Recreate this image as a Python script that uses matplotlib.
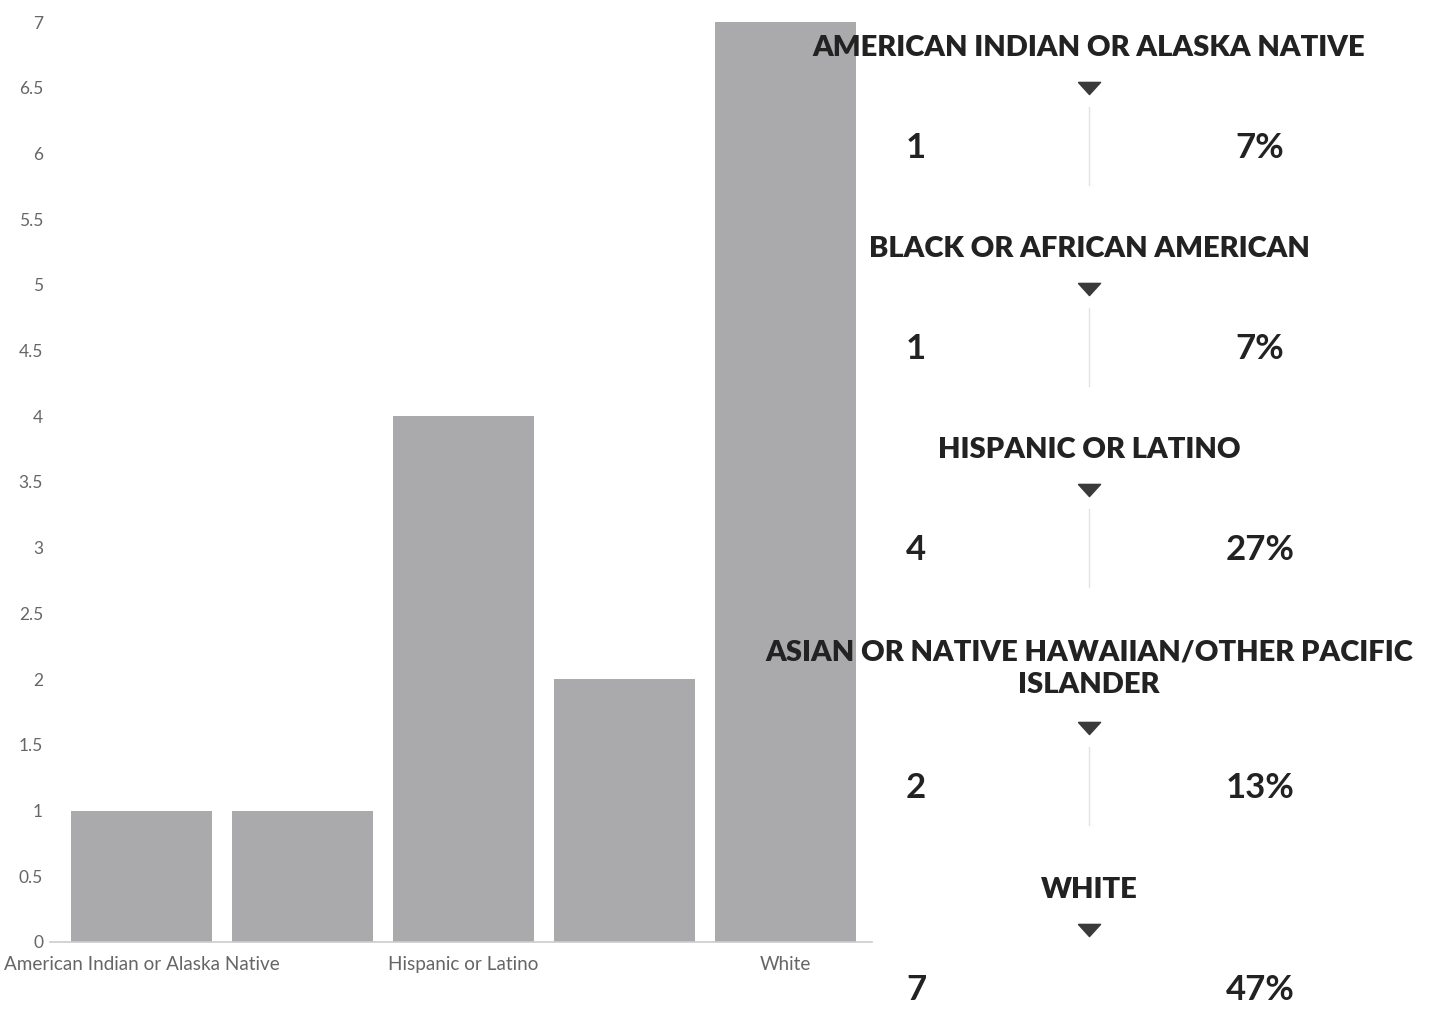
import matplotlib
matplotlib.use("Agg")
import matplotlib.pyplot as plt

# --- datos ---
categories = ["American Indian or Alaska Native", "Black or African American",
              "Hispanic or Latino", "Asian or Native Hawaiian/Other Pacific Islander",
              "White"]
counts = [1, 1, 4, 2, 7]
percents = ["7%", "7%", "27%", "13%", "47%"]
headings = ["AMERICAN INDIAN OR ALASKA NATIVE", "BLACK OR AFRICAN AMERICAN",
            "HISPANIC OR LATINO", "ASIAN OR NATIVE HAWAIIAN/OTHER PACIFIC\nISLANDER",
            "WHITE"]
yticks = [0, 0.5, 1, 1.5, 2, 2.5, 3, 3.5, 4, 4.5, 5, 5.5, 6, 6.5, 7]
shown_xlabels = [0, 2, 4]  # solo se ven algunas etiquetas

plt.rcParams['font.family'] = ['Lato', 'DejaVu Sans']

W, H = 1429, 1009
fig = plt.figure(figsize=(W / 100, H / 100), dpi=100)

# --- gráfico de barras ---
ax = fig.add_axes([50 / W, (H - 942) / H, 822 / W, 920 / H])
x = list(range(len(counts)))
ax.bar(x, counts, width=0.877, color="#aaaaad", zorder=2)
ax.set_xlim(-0.572, 4.541)
ax.set_ylim(0, 7)
ax.set_yticks(yticks)
ax.set_yticklabels([f"{t:g}" for t in yticks])
ax.set_xticks(shown_xlabels)
ax.set_xticklabels([categories[i] for i in shown_xlabels])
ax.tick_params(axis="y", length=0, pad=5, labelsize=12.5, labelcolor="#666666")
ax.tick_params(axis="x", length=0, pad=10, labelsize=13.6, labelcolor="#666666")
for s in ["top", "right", "left"]:
    ax.spines[s].set_visible(False)
ax.spines["bottom"].set_color("#cccccc")
ax.spines["bottom"].set_linewidth(1.2)

# --- panel de resumen a la derecha (coordenadas en píxeles) ---
ov = fig.add_axes([0, 0, 1, 1], zorder=5)
ov.set_xlim(0, W)
ov.set_ylim(H, 0)
ov.axis("off")

head_y = [48, 249, 450, 669, 890]
tri_y = [88, 289, 490, 728, 930]
num_y = [148, 349, 550, 788, 990]
cx = 1089
tri = [(-1, 0.55), (1, 0.55), (0, -0.55), (-1, 0.55)]

for i in range(len(counts)):
    ov.text(cx, head_y[i], headings[i], ha="center", va="center",
            fontsize=21, fontweight="heavy", color="#222222", linespacing=1.3)
    ov.plot([cx], [tri_y[i]], marker=tri, markersize=16, color="#3a3a3a", lw=0)
    if i < len(counts) - 1:
        ov.plot([cx, cx], [num_y[i] - 41, num_y[i] + 37], color="#e2e2e2", lw=1)
    ov.text(916, num_y[i], str(counts[i]), ha="center", va="center",
            fontsize=25, fontweight="bold", color="#222222")
    ov.text(1260, num_y[i], percents[i], ha="center", va="center",
            fontsize=25, fontweight="bold", color="#222222")

fig.savefig("out.png", dpi=100)
